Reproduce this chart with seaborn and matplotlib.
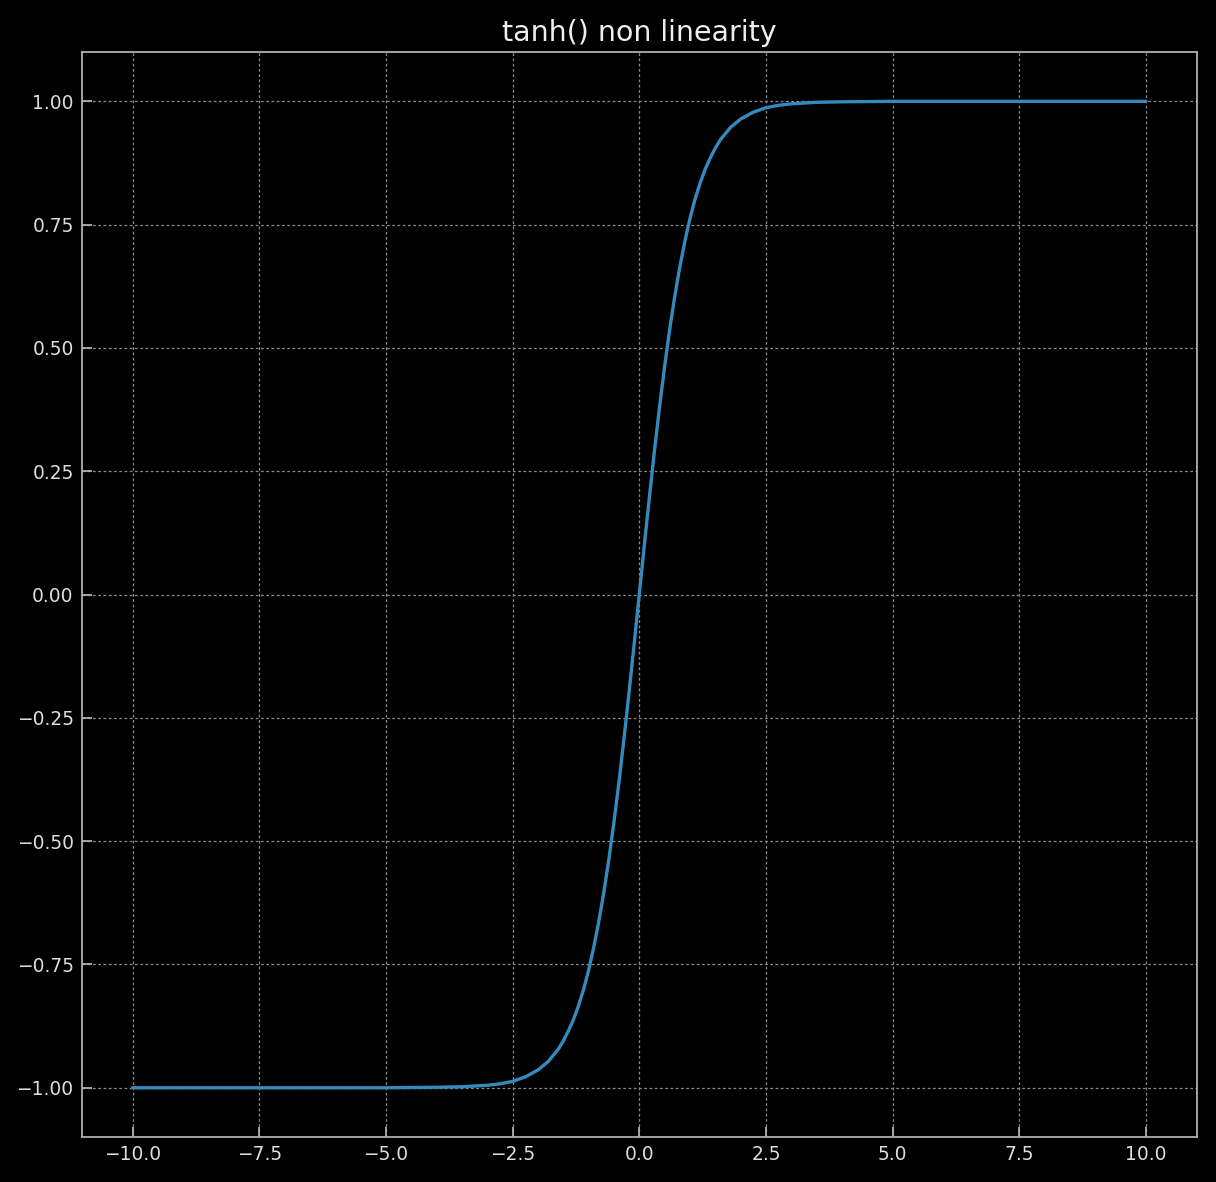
import matplotlib
matplotlib.use("Agg")
import matplotlib.pyplot as plt
import seaborn as sns
import pandas as pd

# values
x_vals = [-10.0, -7.5, -5.0, -4.0, -3.5, -3.0, -2.75, -2.5, -2.25, -2.0,
          -1.8, -1.6, -1.5, -1.4, -1.3, -1.2, -1.1, -1.0, -0.9, -0.8, -0.7,
          -0.6, -0.5, -0.4, -0.3, -0.2, -0.1, 0.0, 0.1, 0.2, 0.3, 0.4, 0.5,
          0.6, 0.7, 0.8, 0.9, 1.0, 1.1, 1.2, 1.3, 1.4, 1.5, 1.6, 1.8, 2.0,
          2.25, 2.5, 2.75, 3.0, 3.5, 4.0, 5.0, 7.5, 10.0]
y_vals = [-1.000, -1.000, -1.000, -0.999, -0.998, -0.995, -0.992, -0.987,
          -0.978, -0.964, -0.947, -0.922, -0.905, -0.885, -0.862, -0.834,
          -0.801, -0.762, -0.716, -0.664, -0.604, -0.537, -0.462, -0.380,
          -0.291, -0.197, -0.100, 0.000, 0.100, 0.197, 0.291, 0.380, 0.462,
          0.537, 0.604, 0.664, 0.716, 0.762, 0.801, 0.834, 0.862, 0.885,
          0.905, 0.922, 0.947, 0.964, 0.978, 0.987, 0.992, 0.995, 0.998,
          0.999, 1.000, 1.000, 1.000]
title = "tanh() non linearity"
x_ticks = [-10.0, -7.5, -5.0, -2.5, 0.0, 2.5, 5.0, 7.5, 10.0]
y_ticks = [-1.00, -0.75, -0.50, -0.25, 0.00, 0.25, 0.50, 0.75, 1.00]

df = pd.DataFrame({"x": x_vals, "y": y_vals})

sns.set_theme(style="dark")
plt.rcParams["font.family"] = ["DejaVu Sans"]

fig = plt.figure(figsize=(12.16, 11.82), dpi=100, facecolor="black")
ax = fig.add_axes([0.0674, 0.038, 0.9166, 0.918])
ax.set_facecolor("black")

sns.lineplot(data=df, x="x", y="y", ax=ax, color="#348ABD", linewidth=2.4,
             sort=False)

ax.set_xticks(x_ticks)
ax.set_yticks(y_ticks)
ax.set_xticklabels([f"{v:.1f}".replace("-", "\u2212") for v in x_ticks])
ax.set_yticklabels([f"{v:.2f}".replace("-", "\u2212") for v in y_ticks])
ax.set_xlim(-11.0, 11.0)
ax.set_ylim(-1.1, 1.1)
ax.set_xlabel("")
ax.set_ylabel("")

ax.grid(True, color="#8a8a8a", linestyle=(0, (2.2, 2.0)), linewidth=0.9)
ax.set_axisbelow(True)
for s in ax.spines.values():
    s.set_color("#b0b0b0")
    s.set_linewidth(1.3)
    s.set_visible(True)
ax.tick_params(axis="both", direction="in", length=7, width=1.3,
               color="#b0b0b0", labelcolor="#dddddd", labelsize=13.4,
               bottom=True, left=True, top=False, right=False, pad=6)
ax.set_title(title, color="#eeeeee", fontsize=20.5, pad=8)

fig.savefig("out.png", dpi=100, facecolor="black")
